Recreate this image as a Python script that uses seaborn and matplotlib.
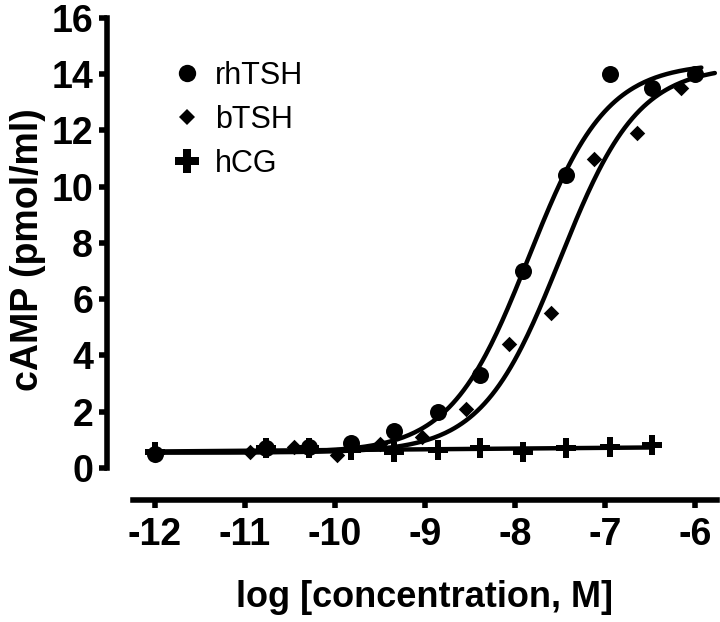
import numpy as np
import pandas as pd
import matplotlib
matplotlib.use("Agg")
import matplotlib.pyplot as plt
import seaborn as sns
from matplotlib.lines import Line2D

# ---- data (log molar concentration, cAMP pmol/ml) ----
rh_x = [-12.0, -10.77, -10.29, -9.82, -9.34, -8.86, -8.39, -7.91, -7.43, -6.95, -6.48, -6.0]
rh_y = [0.5, 0.7, 0.75, 0.9, 1.3, 2.0, 3.3, 7.0, 10.4, 14.0, 13.5, 14.0]

b_x = [-12.0, -10.94, -10.46, -9.98, -9.5, -9.03, -8.55, -8.07, -7.6, -7.12, -6.64, -6.16]
b_y = [0.45, 0.55, 0.75, 0.45, 0.85, 1.1, 2.1, 4.4, 5.5, 11.0, 11.9, 13.5]

h_x = [-12.0, -10.77, -10.29, -9.82, -9.34, -8.86, -8.39, -7.91, -7.43, -6.95, -6.48]
h_y = [0.55, 0.7, 0.7, 0.64, 0.57, 0.65, 0.7, 0.55, 0.7, 0.75, 0.8]

# fitted 4-parameter logistic curves (bottom, top, logEC50, hill, x-range end)
rh_fit = dict(bottom=0.55, top=14.4, logec50=-7.85, hill=1.0, xmax=-5.93)
b_fit = dict(bottom=0.55, top=14.3, logec50=-7.5, hill=1.0, xmax=-5.78)

series_names = ["rhTSH", "bTSH", "hCG"]
xticks = [-12, -11, -10, -9, -8, -7, -6]
yticks = [0, 2, 4, 6, 8, 10, 12, 14, 16]


def logistic(x, p):
    return p["bottom"] + (p["top"] - p["bottom"]) / (1 + 10 ** ((p["logec50"] - x) * p["hill"]))


sns.set_theme(style="ticks")
plt.rcParams["font.family"] = ["Liberation Sans", "DejaVu Sans"]
plt.rcParams["axes.unicode_minus"] = False

W, H = 720, 622
fig = plt.figure(figsize=(W / 100, H / 100), dpi=100)
ax = fig.add_axes([133 / W, 1 - 482 / H, 584 / W, 464 / H])

# curves
xr = np.linspace(min(rh_x), rh_fit["xmax"], 300)
xb = np.linspace(min(b_x), b_fit["xmax"], 300)
coef = np.polyfit(h_x, h_y, 1)
xh = np.array([min(h_x), max(h_x)])
curves = pd.concat([
    pd.DataFrame({"x": xr, "y": logistic(xr, rh_fit), "s": "rhTSH"}),
    pd.DataFrame({"x": xb, "y": logistic(xb, b_fit), "s": "bTSH"}),
    pd.DataFrame({"x": xh, "y": np.polyval(coef, xh), "s": "hCG"}),
])
sns.lineplot(data=curves, x="x", y="y", units="s", estimator=None, color="black",
             lw=3.2, ax=ax, legend=False, sort=False)

lw = 0
sns.scatterplot(x=h_x, y=h_y, marker="P", s=210, color="black", linewidth=lw, ax=ax, zorder=5)
sns.scatterplot(x=b_x, y=b_y, marker="D", s=62, color="black", linewidth=lw, ax=ax, zorder=5)
sns.scatterplot(x=rh_x, y=rh_y, marker="o", s=150, color="black", linewidth=lw, ax=ax, zorder=5)

ax.set_xlim(-12.244, -5.756)
ax.set_ylim(-0.5, 16)
ax.set_xticks(xticks)
ax.set_xticklabels([str(t) for t in xticks])
ax.set_yticks(yticks)
ax.set_yticklabels([str(t) for t in yticks])

for side in ["top", "right"]:
    ax.spines[side].set_visible(False)
ax.spines["left"].set_position(("outward", 26 * 72 / 100))
ax.spines["bottom"].set_position(("outward", 18 * 72 / 100))
ax.spines["left"].set_bounds(0, 16)
for side in ["left", "bottom"]:
    ax.spines[side].set_linewidth(4)
    ax.spines[side].set_color("black")

ax.tick_params(axis="both", which="major", length=6, width=4, color="black",
               labelsize=27, labelcolor="black")
ax.tick_params(axis="x", pad=6)
ax.tick_params(axis="y", pad=4)
for lab in ax.get_xticklabels() + ax.get_yticklabels():
    lab.set_fontweight("bold")

ax.set_xlabel("log [concentration, M]", fontsize=26, fontweight="bold", labelpad=20,
              color="black")
ax.set_ylabel("cAMP (pmol/ml)", fontsize=27, fontweight="bold", labelpad=4,
              color="black")

handles = [
    Line2D([], [], linestyle="none", marker="o", markersize=12.5, color="black", markeredgewidth=0),
    Line2D([], [], linestyle="none", marker="D", markersize=8.5, color="black", markeredgewidth=0),
    Line2D([], [], linestyle="none", marker="P", markersize=17, color="black", markeredgewidth=0),
]
leg = ax.legend(handles, series_names, loc="upper left", frameon=False, fontsize=22,
                bbox_to_anchor=(172 / W, 1 - 61 / H), bbox_transform=fig.transFigure,
                handlelength=1.0, handletextpad=0.4, labelspacing=0.45, borderpad=0,
                borderaxespad=0)
for t in leg.get_texts():
    t.set_color("black")

fig.savefig("out.png", dpi=100)
